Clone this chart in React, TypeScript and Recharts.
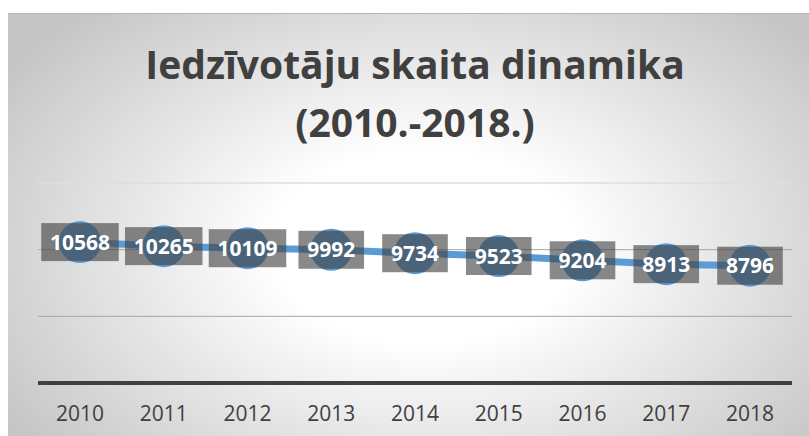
import { LineChart, Line, XAxis, YAxis, CartesianGrid, ReferenceLine, LabelList } from 'recharts';

const years = ['2010', '2011', '2012', '2013', '2014', '2015', '2016', '2017', '2018'];
const population = [10568, 10265, 10109, 9992, 9734, 9523, 9204, 8913, 8796];
const yTicks = [0, 5000, 10000, 15000];

const titleLines = ['Iedzīvotāju skaita dinamika', '(2010.-2018.)'];

const data = years.map((year, i) => ({ year, value: population[i] }));

const FONT = '"Open Sans", "Noto Sans", sans-serif';

function ValueLabel(props: any) {
  const { x, y, value } = props;
  const text = String(value);
  const w = text.length * 11.9 + 18;
  const h = 38;
  return (
    <g>
      <rect x={x - w / 2} y={y - h / 2} width={w} height={h} fill="#404040" fillOpacity={0.62} />
      <text
        x={x}
        y={y}
        dy="0.36em"
        textAnchor="middle"
        fill="#ffffff"
        fontFamily={FONT}
        fontWeight={700}
        fontSize={21}
      >
        {text}
      </text>
    </g>
  );
}

export default function App() {
  return (
    <div style={{ position: 'fixed', left: 0, top: 0, width: 809, height: 436, background: '#fff', overflow: 'hidden' }}>
      <div
        style={{
          position: 'absolute',
          left: 8,
          top: 13,
          width: 801,
          height: 423,
          borderTop: '1px solid #b4b4b4',
          background: 'radial-gradient(ellipse 62% 75% at 52% 55%, #ffffff 0%, #ffffff 30%, #c6c6c6 100%)',
        }}
      />
      <div
        style={{
          position: 'absolute',
          left: 38,
          width: 754,
          top: 35,
          textAlign: 'center',
          fontFamily: FONT,
          fontWeight: 700,
          fontSize: 39,
          lineHeight: '58px',
          color: '#404040',
        }}
      >
        {titleLines.map((t) => (
          <div key={t}>{t}</div>
        ))}
      </div>
      <div style={{ position: 'absolute', left: 0, top: 0 }}>
        <LineChart width={809} height={436} data={data} margin={{ top: 183, right: 17, bottom: 23, left: 38 }}>
          <CartesianGrid vertical={false} horizontalValues={[5000, 10000]} stroke="#a6a6a6" strokeWidth={1} />
          <ReferenceLine y={15000} stroke="#dedede" strokeWidth={1.5} />
          <YAxis hide domain={[0, 15000]} ticks={yTicks} />
          <XAxis
            dataKey="year"
            height={30}
            padding={{ left: 42, right: 42 }}
            axisLine={{ stroke: '#404040', strokeWidth: 4 }}
            tickLine={false}
            tickMargin={17}
            tick={{ fill: '#404040', fontSize: 21, fontFamily: FONT }}
          />
          <Line
            type="linear"
            dataKey="value"
            stroke="#5b9bd5"
            strokeWidth={7}
            dot={{ r: 21, fill: '#5b9bd5', stroke: 'none' }}
            activeDot={false}
            isAnimationActive={false}
          >
            <LabelList dataKey="value" content={<ValueLabel />} />
          </Line>
        </LineChart>
      </div>
    </div>
  );
}
